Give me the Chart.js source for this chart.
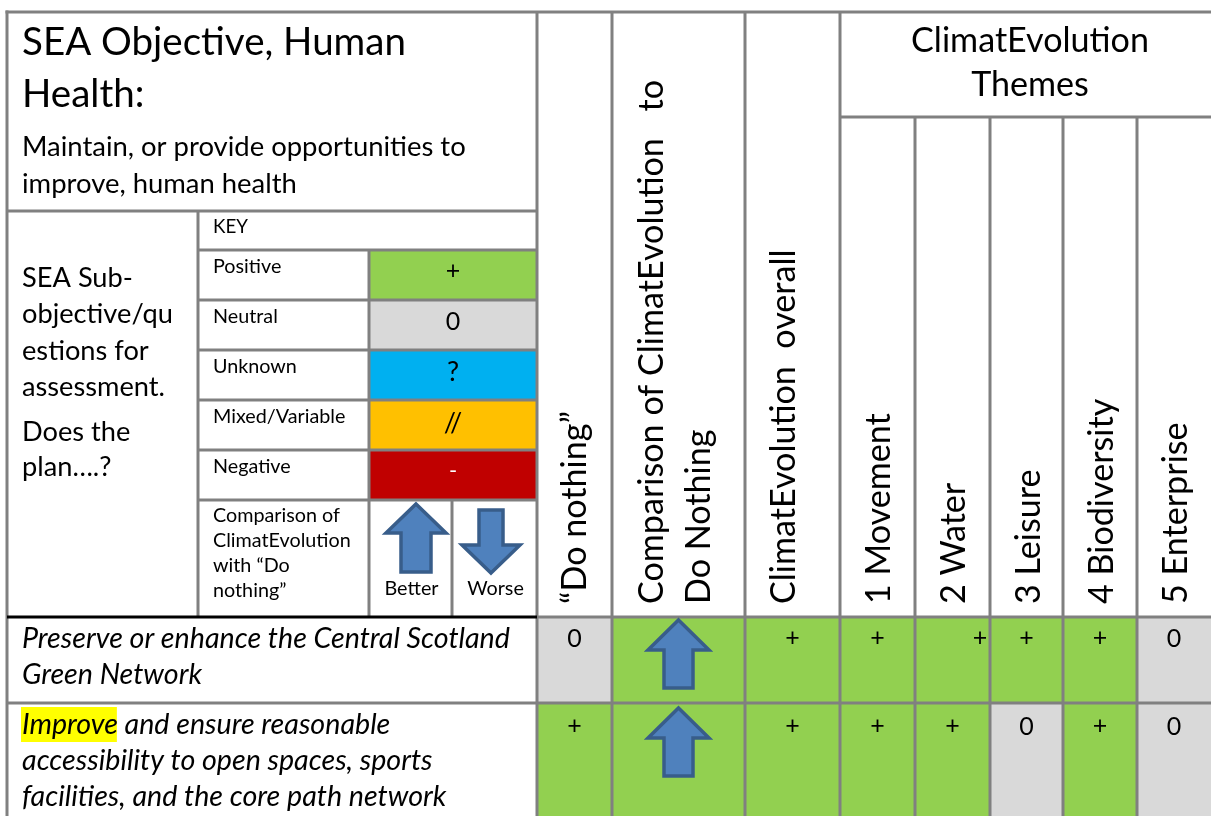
<!DOCTYPE html>
<html lang="en">
<head>
    <meta charset="UTF-8">
    <title>SEA Objective, Human Health</title>
    <script src="https://cdn.jsdelivr.net/npm/chart.js@4.4.1/dist/chart.umd.min.js"></script>
    <style>
        body { margin: 0; background: #fff; }
    </style>
</head>
<body>
<canvas id="mychart" width="1211" height="816"></canvas>
<script>
    const titleLines = ['SEA Objective, Human', 'Health:'];
    const aimLines = ['Maintain, or provide opportunities to', 'improve, human health'];
    const subLines = ['SEA Sub-', 'objective/qu', 'estions for', 'assessment.', 'Does the', 'plan….?'];
    const themeTitle = ['ClimatEvolution', 'Themes'];
    const columnHeaders = [
        ['“Do nothing”'],
        ['Comparison of ClimatEvolution  to', 'Do Nothing'],
        ['ClimatEvolution  overall'],
        ['1 Movement'],
        ['2 Water'],
        ['3 Leisure'],
        ['4 Biodiversity'],
        ['5 Enterprise']
    ];
    const keyLabels = ['Positive', 'Neutral', 'Unknown', 'Mixed/Variable', 'Negative'];
    const keySymbols = ['+', '0', '?', '//', '-'];
    const compareLines = ['Comparison of', 'ClimatEvolution', 'with “Do', 'nothing”'];
    const compareLabels = ['Better', 'Worse'];
    const rowTexts = [
        ['Preserve or enhance the Central Scotland', 'Green Network'],
        ['Improve and ensure reasonable', 'accessibility to open spaces, sports', 'facilities, and the core path network']
    ];
    const greenNetworkScores = ['0', 'better', '+', '+', '+', '+', '+', '0'];
    const accessScores = ['+', 'better', '+', '+', '+', '0', '+', '0'];

    // layout (table units = pixels of the original page)
    const colX = [537, 612, 745, 840, 915, 990, 1063, 1137, 1211];
    const rowY = [617, 703, 830];
    const keyX = [198, 369, 452, 537];
    const keyY = [211, 250, 300, 350, 400, 450, 500, 617];
    const headBase = [586, 663, 795, 890, 965, 1040, 1113, 1187];
    const headBase2 = 710;
    const subBase = [287, 323, 360, 396, 441, 476];

    const fills = { '+': '#92d050', '0': '#d9d9d9', '?': '#00b0f0', '//': '#ffc000', '-': '#c00000', better: '#92d050' };
    const symbolSize = { '+': 25, '0': 25, '?': 27, '//': 27, '-': 22 };
    const grid = '#808080';
    const FONT = 'Lato, "Open Sans", sans-serif';

    const tablePlugin = {
        id: 'table',
        afterDraw(chart) {
            const ctx = chart.ctx;
            const X = v => chart.scales.x.getPixelForValue(v);
            const Y = v => chart.scales.y.getPixelForValue(v);

            function fit(sample, width, style) {
                ctx.font = (style || '') + ' 100px ' + FONT;
                return 100 * width / ctx.measureText(sample).width;
            }
            const titleSize = fit(titleLines[0], 384);
            const aimSize = fit(aimLines[0], 444);
            const subSize = fit(subLines[3], 143);
            const keySize = fit(compareLines[0], 127);
            const rowSize = fit(rowTexts[0][0], 488, 'italic');
            const headSize = fit(themeTitle[0], 238);

            function box(x0, y0, x1, y1, color) {
                ctx.fillStyle = color;
                ctx.fillRect(X(x0), Y(y0), X(x1) - X(x0), Y(y1) - Y(y0));
            }
            function line(x0, y0, x1, y1, color, w) {
                ctx.strokeStyle = color || grid;
                ctx.lineWidth = w || 3;
                ctx.beginPath();
                ctx.moveTo(X(x0), Y(y0));
                ctx.lineTo(X(x1), Y(y1));
                ctx.stroke();
            }
            function text(str, x, y, size, align, style, color) {
                ctx.font = (style || '') + ' ' + size + 'px ' + FONT;
                ctx.textAlign = align || 'left';
                ctx.textBaseline = 'alphabetic';
                ctx.fillStyle = color || '#000';
                ctx.fillText(str, X(x), Y(y));
            }
            function vtext(str, base, start, size, align) {
                ctx.save();
                ctx.translate(X(base), Y(start));
                ctx.rotate(-Math.PI / 2);
                ctx.font = size + 'px ' + FONT;
                ctx.textAlign = align || 'left';
                ctx.textBaseline = 'alphabetic';
                ctx.fillStyle = '#000';
                ctx.fillText(str, 0, 0);
                ctx.restore();
            }
            function arrow(cx, top, dir, headW, shaftW, headH, len) {
                const s = dir === 'up' ? 1 : -1;
                const tip = dir === 'up' ? top : top + len;
                const pts = [
                    [cx, tip], [cx + headW / 2, tip + s * headH], [cx + shaftW / 2, tip + s * headH],
                    [cx + shaftW / 2, tip + s * len], [cx - shaftW / 2, tip + s * len],
                    [cx - shaftW / 2, tip + s * headH], [cx - headW / 2, tip + s * headH]
                ];
                ctx.beginPath();
                pts.forEach((p, i) => i ? ctx.lineTo(X(p[0]), Y(p[1])) : ctx.moveTo(X(p[0]), Y(p[1])));
                ctx.closePath();
                ctx.fillStyle = '#4f81bd';
                ctx.fill();
                ctx.strokeStyle = '#385d8a';
                ctx.lineWidth = 3.5;
                ctx.lineJoin = 'miter';
                ctx.stroke();
            }
            function symbol(sym, x0, x1, top, align) {
                const cx = align === 'right' ? x1 - 10 : (x0 + x1) / 2;
                if (sym === 'better') { arrow(cx, top + 3, 'up', 61, 29, 30, 68); return; }
                const dy = { '+': 29, '0': 30, '?': 31, '//': 32, '-': 28 }[sym];
                text(sym, cx, top + dy, symbolSize[sym], 'center', '', sym === '-' ? '#fff' : '#000');
            }

            box(0, 0, 1211, 816, '#fff');

            // left header block
            titleLines.forEach((t, i) => text(t, 22, 55 + i * 52, titleSize));
            aimLines.forEach((t, i) => text(t, 22, 156 + i * 37, aimSize));
            subLines.forEach((t, i) => text(t, 22, subBase[i], subSize));

            // key
            text('KEY', 213, 233, keySize * 0.95);
            keyLabels.forEach((lab, i) => {
                const y0 = keyY[i + 1], y1 = keyY[i + 2];
                box(keyX[1], y0, keyX[3], y1, fills[keySymbols[i]]);
                text(lab, 213, y0 + 23, keySize);
                symbol(keySymbols[i], keyX[1], keyX[3], y0);
            });
            compareLines.forEach((t, i) => text(t, 213, 522 + i * 25, keySize));
            arrow(416, 504, 'up', 60, 30, 29, 68);
            arrow(491, 510, 'down', 58, 24, 28, 63);
            text(compareLabels[0], (keyX[1] + keyX[2]) / 2 + 1, 595, keySize, 'center');
            text(compareLabels[1], (keyX[2] + keyX[3]) / 2 + 1, 595, keySize, 'center');

            // column headers
            text(themeTitle[0], 1030, 52, headSize, 'center');
            text(themeTitle[1], 1030, 96, headSize, 'center');
            columnHeaders.forEach((lines, i) => {
                const parts = lines[0].split('  ');
                if (i === 1) {
                    vtext(parts[0], headBase[i], 604, headSize);
                    vtext(parts[1], headBase[i], 80, headSize, 'right');
                } else {
                    vtext(lines[0], headBase[i], 604, headSize);
                }
                if (lines[1]) vtext(lines[1], headBase2, 604, headSize);
            });

            // assessment rows
            [greenNetworkScores, accessScores].forEach((scores, r) => {
                scores.forEach((s, c) => {
                    box(colX[c], rowY[r], colX[c + 1], rowY[r + 1], fills[s]);
                });
            });
            ctx.font = 'italic ' + rowSize + 'px ' + FONT;
            box(21, 707, 21 + ctx.measureText('Improve').width, 742, '#ffff00');
            rowTexts.forEach((lines, r) => {
                lines.forEach((t, i) => text(t, 22, rowY[r] + 31 + i * 36, rowSize, 'left', 'italic'));
            });

            // grid lines
            line(5.5, 12, 1211, 12);
            line(7, 10.5, 7, 816);
            [colX[0], colX[1], colX[2], colX[3]].forEach(x => line(x, 12, x, 816));
            colX.slice(4, 8).forEach(x => line(x, 117, x, 816));
            line(colX[3], 117, 1211, 117);
            line(7, 211, colX[0], 211);
            line(keyX[0], 211, keyX[0], 617);
            keyY.slice(1, 7).forEach(y => line(keyX[0], y, keyX[3], y));
            line(keyX[1], keyY[1], keyX[1], 617);
            line(keyX[2], keyY[6], keyX[2], 617);
            line(colX[0], 617, 1211, 617);
            line(7, 617, colX[0], 617, '#000', 3);
            line(7, rowY[1], 1211, rowY[1]);

            // score symbols on top of the fills
            [greenNetworkScores, accessScores].forEach((scores, r) => {
                scores.forEach((s, c) => {
                    symbol(s, colX[c], colX[c + 1], rowY[r] + (r ? 2 : 0), r === 0 && c === 4 ? 'right' : 'center');
                });
            });
        }
    };

    const ctx = document.getElementById('mychart').getContext('2d');
    const myChart = new Chart(ctx, {
        type: 'scatter',
        data: { datasets: [] },
        options: {
            responsive: false,
            animation: false,
            layout: { padding: 0 },
            scales: {
                x: { type: 'linear', min: 0, max: 1211, display: false },
                y: { type: 'linear', min: 0, max: 816, reverse: true, display: false }
            },
            plugins: { legend: { display: false }, tooltip: { enabled: false } }
        },
        plugins: [tablePlugin]
    });
</script>
</body>
</html>
